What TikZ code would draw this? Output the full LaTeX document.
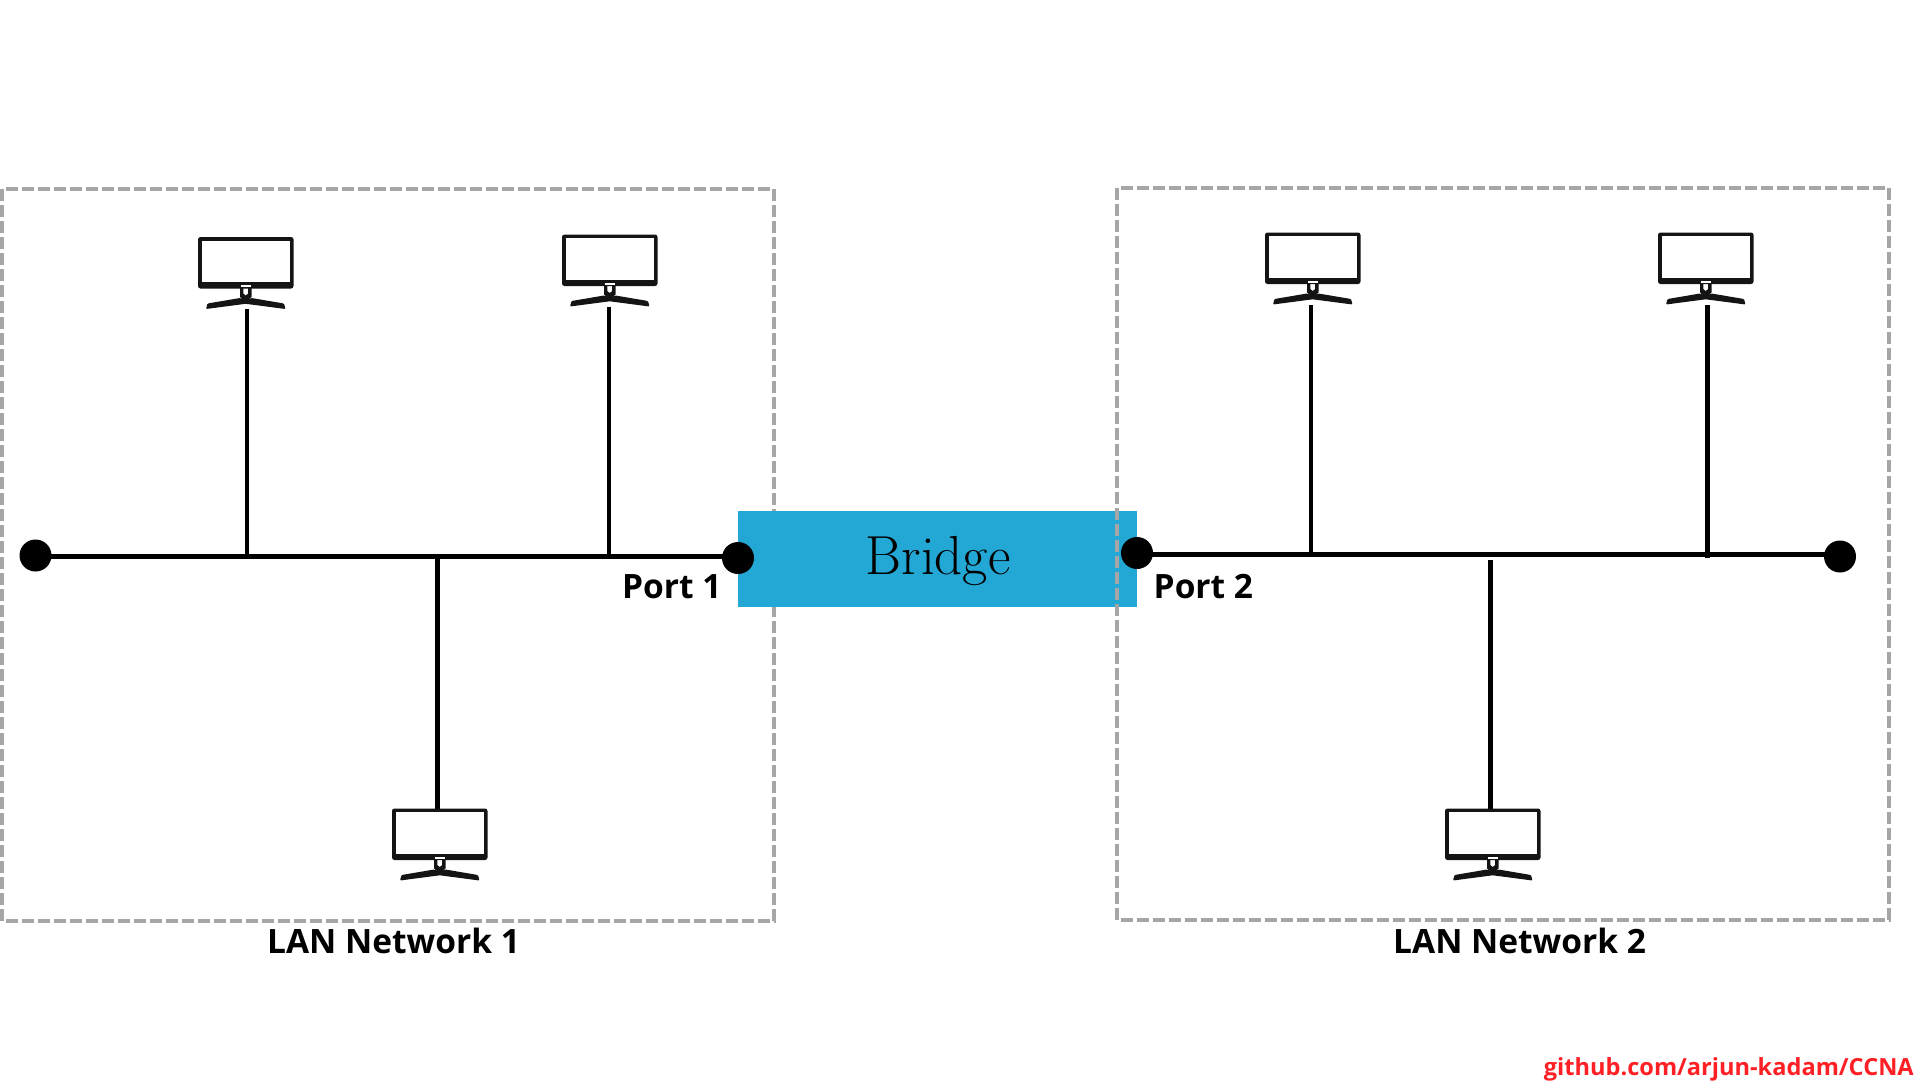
\documentclass[tikz,border=0pt]{standalone}
\usepackage{fontspec}
\setsansfont{Open Sans}
\newfontfamily\linkfont{Open Sans}
\definecolor{bridgeblue}{HTML}{23A7D4}
\definecolor{boxgray}{HTML}{A6A6A6}
\definecolor{linkred}{HTML}{FF2025}
\definecolor{screenblack}{HTML}{141414}
\tikzset{
    wire/.style={black, line width=4.4pt},
    lanbox/.style={boxgray, line width=4pt, dash pattern=on 12pt off 4pt},
    portdot/.style={circle, fill=black, inner sep=0pt, minimum size=32pt},
    netlabel/.style={font=\sffamily\bfseries\fontsize{33.5}{40}\selectfont, inner sep=0pt, anchor=base west},
    monitor/.pic={
        \fill[screenblack, rounded corners=2.5pt] (0,0) rectangle (95.5,51.5);
        \fill[white] (3.5,3.5) rectangle (92,45);
        \fill[white] (43,48) rectangle (52.5,50);
        \fill[screenblack] (42,51) -- (42,60) -- (47.7,65) -- (53.5,60) -- (53.5,51) -- (50.2,51)
            -- (50.2,56.5) -- (47.7,58.5) -- (45.3,56.5) -- (45.3,51) -- cycle;
        \fill[screenblack, rounded corners=1pt] (8,72) -- (9.5,66.5) -- (42,61) -- (47.7,63) -- (53.5,61)
            -- (86,66.5) -- (87.5,72) -- (47.7,66.8) -- cycle;
        \coordinate (-base) at (49,72);
        \coordinate (-top) at (46,0);
    }
}
\begin{document}
\begin{tikzpicture}[x=1pt, y=-1pt]
    \useasboundingbox (0,0) rectangle (1920,1080);

    \draw[lanbox] (2,189) rectangle (774,921);
    \node[fill=bridgeblue, inner sep=0pt, minimum width=399pt, minimum height=96pt] (bridge) at (937.5,559) {};
    \node[anchor=base, inner sep=0pt, font=\fontsize{55}{60}\selectfont] (bridgetext) at (938,574) {Bridge};
    \draw[lanbox] (1117,187.5) rectangle (1889,919.5);

    \pic (pcA) at (198,237) {monitor};
    \pic (pcB) at (562,234.5) {monitor};
    \pic (pcC) at (392,808.5) {monitor};
    \pic (pcD) at (1265,232.5) {monitor};
    \pic (pcE) at (1658,232.5) {monitor};
    \pic (pcF) at (1445,808.5) {monitor};

    \node[portdot] (endA) at (35.5,555.5) {};
    \node[portdot] (portA) at (738,558) {};
    \node[portdot] (portB) at (1137,553) {};
    \node[portdot] (endB) at (1840,556.5) {};

    % left segment
    \coordinate (tapA) at (247,556.5);
    \coordinate (tapB) at (609,556.5);
    \coordinate (tapC) at (437.5,556.5);
    \draw[wire] (endA |- tapA) -- (portA |- tapA);
    \draw[wire] (tapA) -- (tapA |- pcA-base);
    \draw[wire] (tapB) -- (tapB |- pcB-base);
    \draw[wire] (tapC) -- (tapC |- pcC-top);

    % right segment
    \coordinate (tapD) at (1311,554.5);
    \coordinate (tapE) at (1707.5,558);
    \coordinate (tapF) at (1490.5,560);
    \draw[wire] (portB |- tapD) -- (endB |- tapD);
    \draw[wire] (tapD) -- (tapD |- pcD-base);
    \draw[wire] (tapE) -- (tapE |- pcE-base);
    \draw[wire] (tapF) -- (tapF |- pcF-top);

    \node[netlabel] (labelPortA) at (622,598) {Port 1};
    \node[netlabel] (labelPortB) at (1153.5,598) {Port 2};
    \node[netlabel] (labelLanA) at (267,953) {LAN Network 1};
    \node[netlabel] (labelLanB) at (1393,953) {LAN Network 2};
    \node[anchor=base east, inner sep=0pt, linkred, font=\linkfont\bfseries\fontsize{23.6}{30}\selectfont] (link) at (1914,1075) {github.com/arjun-kadam/CCNA};
\end{tikzpicture}
\end{document}
